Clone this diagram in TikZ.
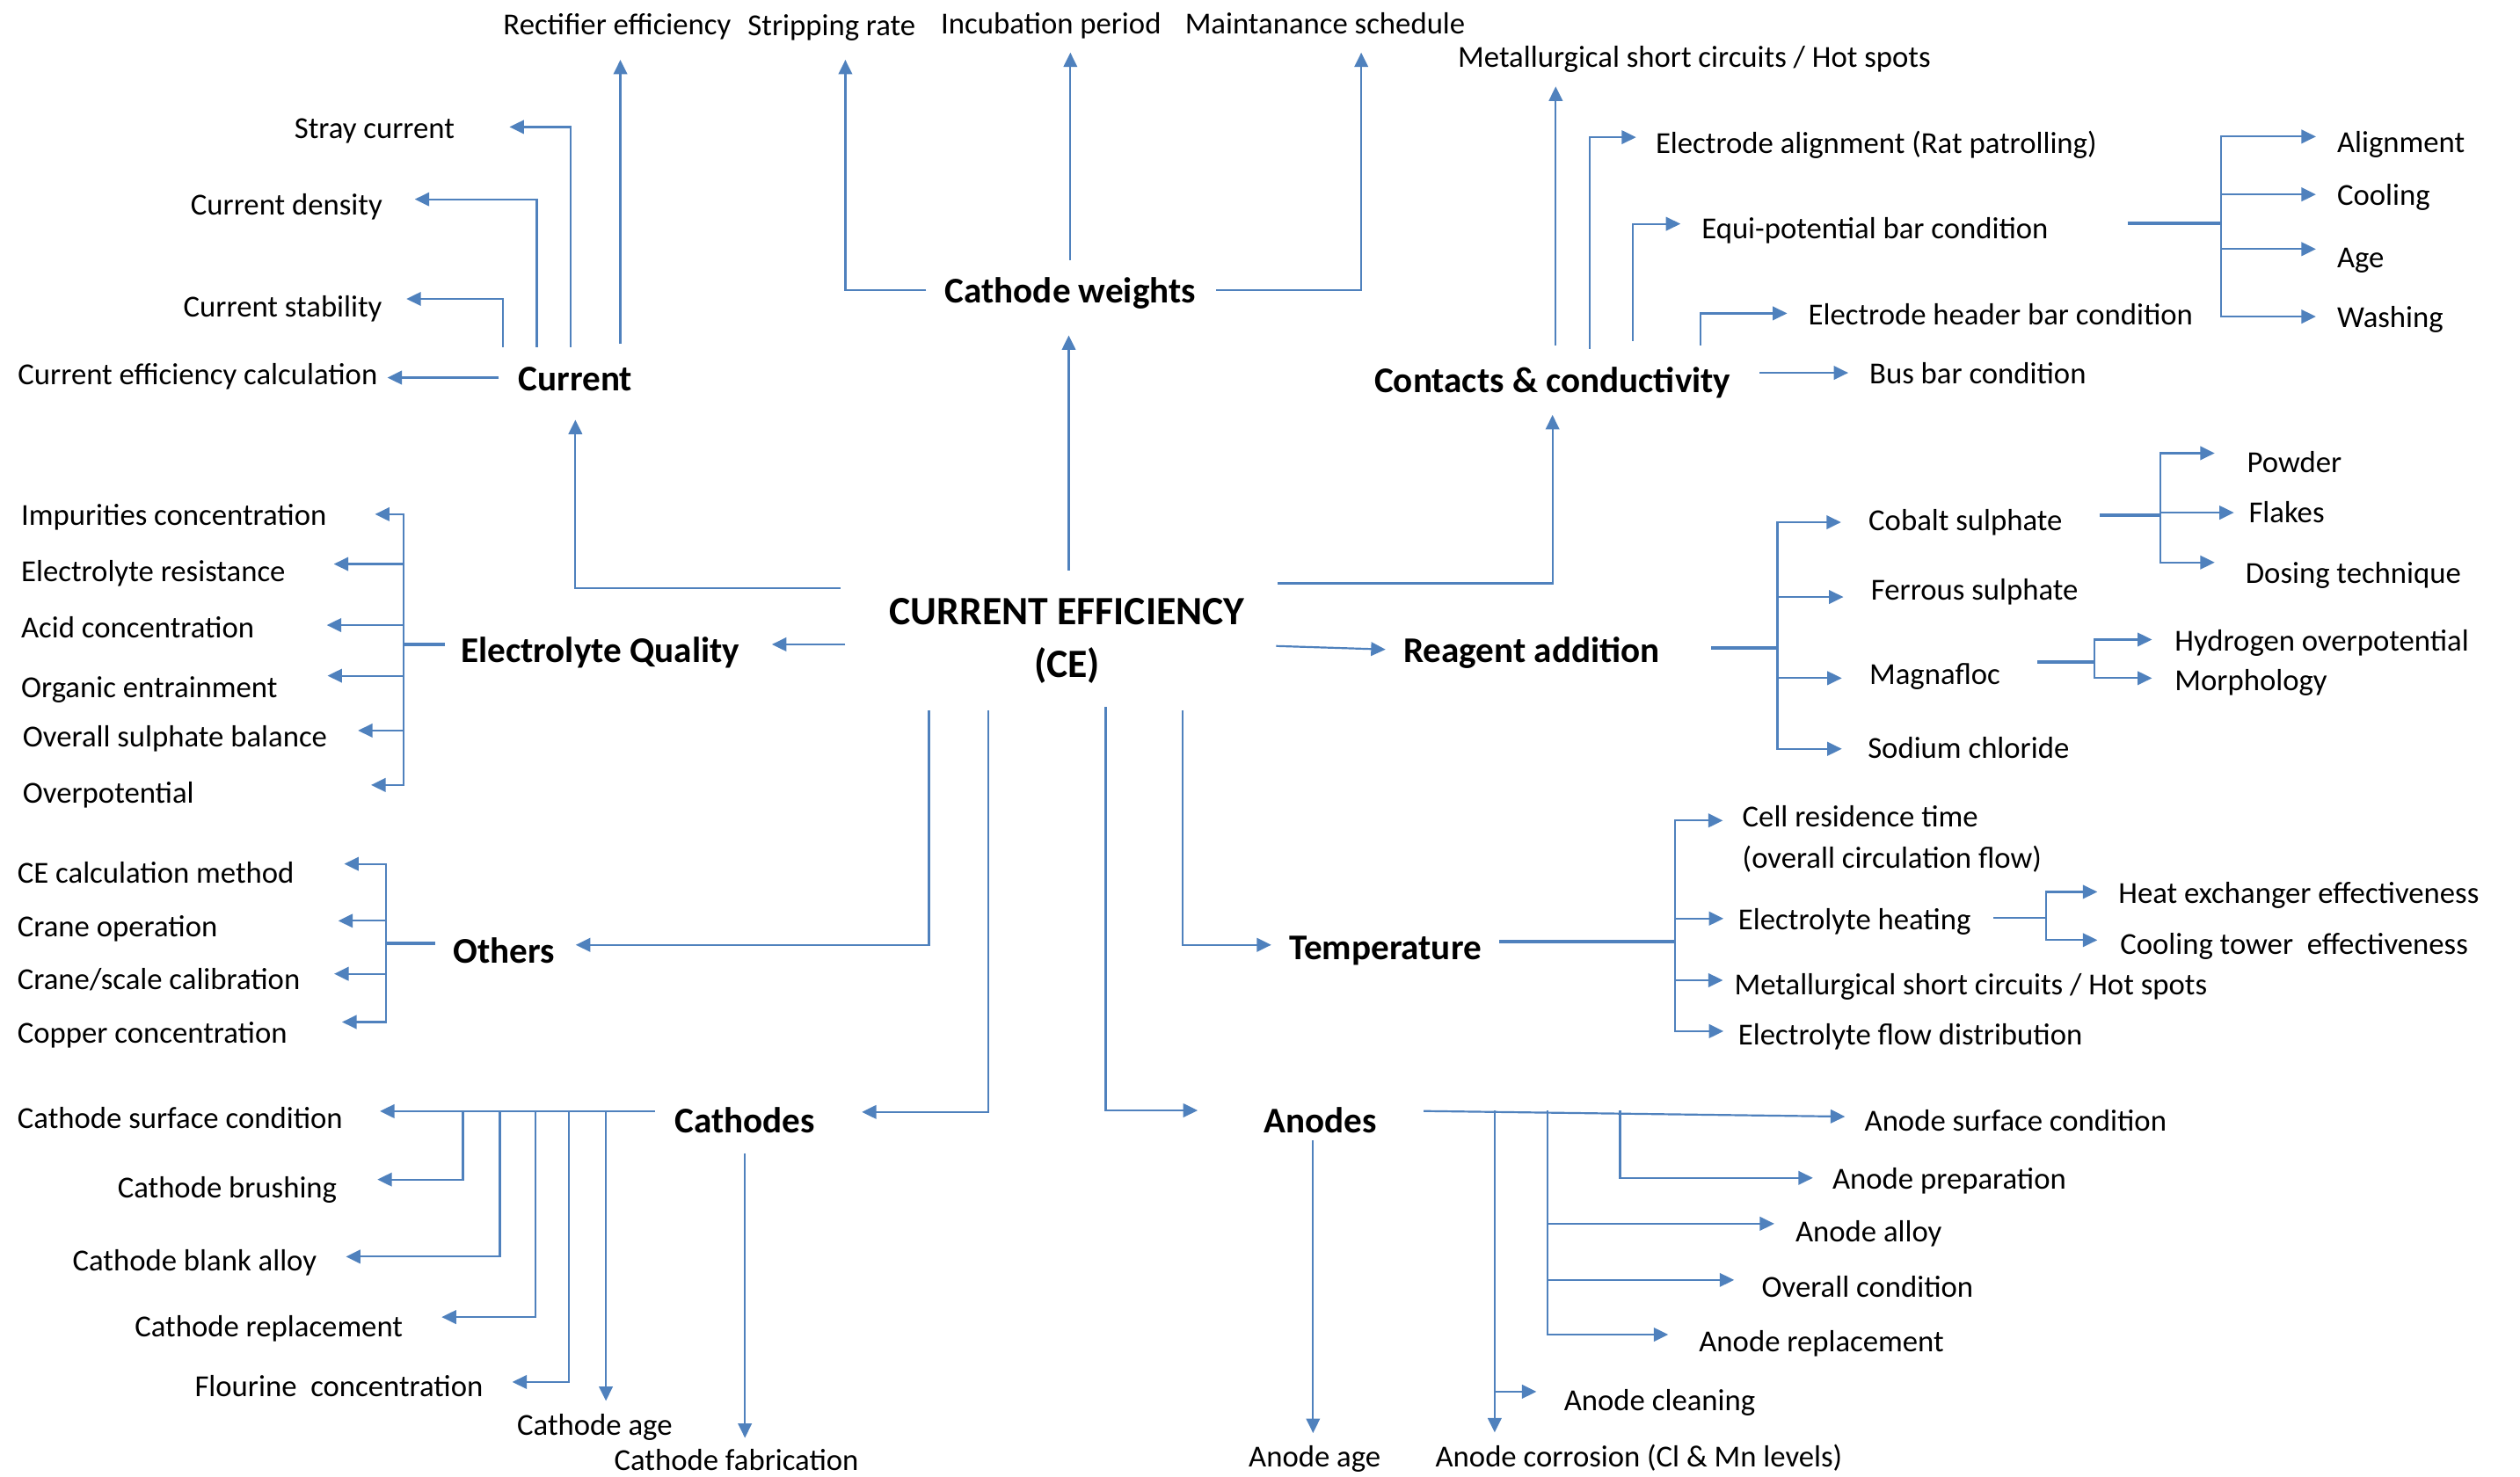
\documentclass[tikz,border=0pt]{standalone}
\usepackage{fontspec}
\setmainfont{Carlito}
\usetikzlibrary{arrows.meta}
\definecolor{linkblue}{RGB}{79,129,189}
\tikzset{
  lbl/.style={inner sep=0pt, font=\fontsize{19}{22}\selectfont, text height=14pt, text depth=0pt},
  lw/.style={lbl, anchor=west},
  lc/.style={lbl, anchor=center},
  head/.style={inner sep=0pt, font=\fontsize{22.5}{26}\selectfont\bfseries, text height=17pt, text depth=1pt},
  conn/.style={draw=linkblue, line width=1.2pt},
  arr/.style={conn, -{Triangle[length=9pt,width=8.5pt]}},
  stub/.style={draw=linkblue, line width=2.2pt},
}
\begin{document}
\begin{tikzpicture}[x=1pt,y=-1pt]
\useasboundingbox[fill=white] (0,0) rectangle (1568,919);

% ---------- central node and main headings ----------
\node[inner sep=0pt, anchor=north, align=center, font=\fontsize{25}{33}\selectfont\bfseries] (ce) at (664,372) {CURRENT EFFICIENCY\\(CE)};

\node[head] (cur) at (358,235) {Current};
\node[head] (cw)  at (666,180.5) {Cathode weights};
\node[head] (cc)  at (966,236.5) {Contacts \& conductivity};
\node[head] (elq) at (373.5,404.5) {Electrolyte Quality};
\node[head] (rea) at (953,404.5) {Reagent addition};
\node[head] (oth) at (313.5,591.5) {Others};
\node[head] (cat) at (463.5,697) {Cathodes};
\node[head] (ano) at (821.5,697) {Anodes};
\node[head] (tem) at (862,589) {Temperature};

% ---------- leaf labels ----------
% current
\node[lw] (cec) at (11,232.5) {Current efficiency calculation};
\node[lw] (cst) at (114,190) {Current stability};
\node[lw] (cde) at (118.5,127) {Current density};
\node[lw] (str) at (183,79) {Stray current};
\node[lc] (rec) at (384,14.6) {Rectifier efficiency};
% cathode weights
\node[lc] (strp) at (517.5,15) {Stripping rate};
\node[lc] (inc)  at (654,14) {Incubation period};
\node[lc] (mai)  at (824.5,14) {Maintanance schedule};
% contacts
\node[lw] (msc) at (907,34.6) {Metallurgical short circuits / Hot spots};
\node[lw] (eal) at (1030,88.4) {Electrode alignment (Rat patrolling)};
\node[lw] (epb) at (1058.6,141.3) {Equi-potential bar condition};
\node[lw] (ehb) at (1125,195) {Electrode header bar condition};
\node[lw] (bbc) at (1163,232) {Bus bar condition};
\node[lw] (ali) at (1454,88) {Alignment};
\node[lw] (coo) at (1454,121) {Cooling};
\node[lw] (age) at (1454,159.6) {Age};
\node[lw] (was) at (1454,197) {Washing};
% electrolyte quality
\node[lw] (imp) at (13,320) {Impurities concentration};
\node[lw] (ers) at (13,355) {Electrolyte resistance};
\node[lw] (aci) at (13,390) {Acid concentration};
\node[lw] (org) at (13,427) {Organic entrainment};
\node[lw] (osb) at (14,458) {Overall sulphate balance};
\node[lw] (ovp) at (14,492.5) {Overpotential};
% reagent addition
\node[lw] (cob) at (1162.5,323) {Cobalt sulphate};
\node[lw] (fer) at (1164,366.5) {Ferrous sulphate};
\node[lw] (mag) at (1163,419) {Magnafloc};
\node[lw] (sod) at (1162,465) {Sodium chloride};
\node[lw] (pow) at (1398,287) {Powder};
\node[lw] (fla) at (1399,318) {Flakes};
\node[lw] (dos) at (1397,356) {Dosing technique};
\node[lw] (hyd) at (1353,398) {Hydrogen overpotential};
\node[lw] (mor) at (1353,423) {Morphology};
% others
\node[lw] (cem) at (10.7,542.6) {CE calculation method};
\node[lw] (cro) at (10.7,576) {Crane operation};
\node[lw] (csc) at (10.7,609) {Crane/scale calibration};
\node[lw] (cop) at (10.7,642) {Copper concentration};
% cathodes
\node[lw] (csf) at (10.7,695) {Cathode surface condition};
\node[lw] (cbr) at (73,738.5) {Cathode brushing};
\node[lw] (cba) at (45,784) {Cathode blank alloy};
\node[lw] (crp) at (83.7,825) {Cathode replacement};
\node[lw] (flo) at (121,862) {Flourine\ \ concentration};
\node[lw] (cag) at (321.6,886) {Cathode age};
\node[lw] (cfa) at (382,908) {Cathode fabrication};
% anodes
\node[lw] (asc) at (1160,697) {Anode surface condition};
\node[lw] (apr) at (1140,733) {Anode preparation};
\node[lw] (aal) at (1117,766) {Anode alloy};
\node[lw] (aoc) at (1096,800.5) {Overall condition};
\node[lw] (arp) at (1057,834) {Anode replacement};
\node[lw] (acl) at (973,871) {Anode cleaning};
\node[lc] (aag) at (818,906) {Anode age};
\node[lw] (aco) at (893,906) {Anode corrosion (Cl \& Mn levels)};
% temperature
\node[inner sep=0pt, anchor=north west, align=left, font=\fontsize{19}{26}\selectfont] (crt) at (1084,501) {Cell residence time\\(overall circulation flow)};
\node[lw] (ehe) at (1081.4,571.6) {Electrolyte heating};
\node[lw] (ms2) at (1079,612) {Metallurgical short circuits / Hot spots};
\node[lw] (efd) at (1081.4,643) {Electrolyte flow distribution};
\node[lw] (hex) at (1318,555) {Heat exchanger effectiveness};
\node[lw] (ctw) at (1319,587) {Cooling tower\ \ effectiveness};

% ---------- branch points ----------
\coordinate (ce-cur) at (523,366);
\coordinate (ce-cw)  at (665,355);
\coordinate (ce-cc)  at (795,363);
\coordinate (ce-elq) at (526,401);
\coordinate (ce-rea) at (794,402);
\coordinate (ce-oth) at (578,442);
\coordinate (ce-cat) at (615,442);
\coordinate (ce-ano) at (688,440);
\coordinate (ce-tem) at (736,442);

\coordinate (cur-j1) at (313,216);
\coordinate (cur-j2) at (334,216);
\coordinate (cur-j3) at (355,216);
\coordinate (cur-j4) at (386,214);
\coordinate (cw-j1)  at (666,162);
\coordinate (cc-j1)  at (968,215);
\coordinate (cc-j2)  at (989,217);
\coordinate (cc-j3)  at (1016,212);
\coordinate (cc-j4)  at (1058,215);
\coordinate (epb-j)  at (1382,139);
\coordinate (elq-j)  at (251,401);
\coordinate (rea-j)  at (1106,403);
\coordinate (cob-j)  at (1344,320.6);
\coordinate (mag-j)  at (1303,412);
\coordinate (oth-j)  at (240,587);
\coordinate (cat-j1) at (288,691.5);
\coordinate (cat-j2) at (311,691.5);
\coordinate (cat-j3) at (333,691.5);
\coordinate (cat-j4) at (354,691.5);
\coordinate (cat-j5) at (377,691.5);
\coordinate (ano-j1) at (930,691);
\coordinate (ano-j2) at (963,691);
\coordinate (ano-j3) at (1008,691);
\coordinate (ano-j4) at (930,866);
\coordinate (ano-j5) at (817,709.5);
\coordinate (tem-j)  at (1042,586);
\coordinate (ehe-j)  at (1273,571);

% ---------- connectors from the centre ----------
\draw[arr, shorten >=17pt] (ce-cur) -| (cur.south);
\draw[arr, shorten >=19pt] (ce-cw) -- (ce-cw |- cw.south);
\draw[arr, shorten >=12.5pt] (ce-cc) -| (cc.south);
\draw[arr, shorten >=20pt] (ce-elq) -- (ce-elq -| elq.east);
\draw[arr, shorten >=11pt] (ce-rea) -- (rea.west);
\draw[arr, shorten >=13pt] (ce-oth) |- ([yshift=3.5pt]oth.east);
\draw[arr, shorten >=29pt] (ce-cat) |- ([yshift=5pt]cat.east);
\draw[arr, shorten >=41pt] (ce-ano) |- ([yshift=6pt]ano.west);
\draw[arr, shorten >=11pt] (ce-tem) |- ([yshift=1pt]tem.west);

% ---------- current ----------
\draw[arr, shorten <=12pt, shorten >=6pt] (cur.west) -- (cur.west -| cec.east);
\draw[arr, shorten >=15pt] (cur-j1) |- ([yshift=4pt]cst.east);
\draw[arr, shorten >=20pt] (cur-j2) |- ([yshift=3pt]cde.east);
\draw[arr, shorten >=34pt] (cur-j3) |- (str.east);
\draw[arr, shorten >=15.4pt] (cur-j4) -- (cur-j4 |- rec.south);

% ---------- cathode weights ----------
\draw[arr, shorten <=11.5pt, shorten >=15pt] (cw.west) -| ([xshift=8.5pt]strp.south);
\draw[arr, shorten >=11.5pt] (cw-j1) -- (cw-j1 |- inc.south);
\draw[arr, shorten <=12.5pt, shorten >=11.5pt] (cw.east) -| ([xshift=22.5pt]mai.south);

% ---------- contacts & conductivity ----------
\draw[arr, shorten >=12pt] (cc-j1) -- (cc-j1 |- msc.south);
\draw[arr, shorten >=12pt] (cc-j2) |- ([yshift=3pt]eal.west);
\draw[arr, shorten >=13pt] (cc-j3) |- ([yshift=2pt]epb.west);
\draw[arr, shorten >=13pt] (cc-j4) |- (ehb.west);
\draw[arr, shorten <=18pt, shorten >=13pt] ([yshift=4.5pt]cc.east) -- (bbc.west);
\draw[stub] ([xshift=49pt,yshift=2.3pt]epb.east) -- (epb-j);
\draw[arr, shorten >=13pt] (epb-j) |- ([yshift=3pt]ali.west);
\draw[arr, shorten >=13pt] (epb-j) |- (coo.west);
\draw[arr, shorten >=13pt] (epb-j) |- ([yshift=4.6pt]age.west);
\draw[arr, shorten >=13pt] (epb-j) |- (was.west);

% ---------- electrolyte quality ----------
\draw[stub, shorten <=10pt] ([yshift=3.5pt]elq.west) -- (elq-j);
\draw[arr, shorten >=30pt] (elq-j) |- (imp.east);
\draw[arr, shorten >=30pt] (elq-j) |- ([yshift=4pt]ers.east);
\draw[arr, shorten >=45pt] (elq-j) |- ([yshift=1pt]aci.east);
\draw[arr, shorten >=31pt] (elq-j) |- ([yshift=6.5pt]org.east);
\draw[arr, shorten >=19pt] (elq-j) |- ([yshift=3.4pt]osb.east);
\draw[arr, shorten >=110pt] (elq-j) |- ([yshift=4pt]ovp.east);

% ---------- reagent addition ----------
\draw[stub, shorten <=32pt] ([yshift=1.5pt]rea.east) -- (rea-j);
\draw[arr, shorten >=17pt] (rea-j) |- ([yshift=-2pt]cob.west);
\draw[arr, shorten >=17pt] (rea-j) |- ([yshift=-5pt]fer.west);
\draw[arr, shorten >=17pt] (rea-j) |- ([yshift=-3pt]mag.west);
\draw[arr, shorten >=16pt] (rea-j) |- ([yshift=-1pt]sod.west);
\draw[stub, shorten <=23pt] ([yshift=2.4pt]cob.east) -- (cob-j);
\draw[arr, shorten >=20pt] (cob-j) |- ([yshift=5pt]pow.west);
\draw[arr, shorten >=9pt]  (cob-j) |- ([yshift=-1pt]fla.west);
\draw[arr, shorten >=19pt] (cob-j) |- ([yshift=6pt]dos.west);
\draw[stub, shorten <=23pt] ([yshift=7pt]mag.east) -- (mag-j);
\draw[arr, shorten >=14pt] (mag-j) |- (hyd.west);
\draw[arr, shorten >=14pt] (mag-j) |- ([yshift=1pt]mor.west);

% ---------- others ----------
\draw[stub, shorten <=11pt] ([yshift=4.5pt]oth.west) -- (oth-j);
\draw[arr, shorten >=31pt] (oth-j) |- ([yshift=5pt]cem.east);
\draw[arr, shorten >=75pt] (oth-j) |- ([yshift=3pt]cro.east);
\draw[arr, shorten >=21pt] (oth-j) |- ([yshift=3pt]csc.east);
\draw[arr, shorten >=34pt] (oth-j) |- ([yshift=6pt]cop.east);

% ---------- cathodes ----------
\draw[arr, shorten <=12pt, shorten >=23pt] ([yshift=5.5pt]cat.west) -- ([yshift=3.5pt]csf.east);
\draw[arr, shorten >=25pt] (cat-j1) |- ([yshift=4.5pt]cbr.east);
\draw[arr, shorten >=18pt] (cat-j2) |- ([yshift=2pt]cba.east);
\draw[arr, shorten >=24pt] (cat-j3) |- ([yshift=5.4pt]crp.east);
\draw[arr, shorten >=18pt] (cat-j4) |- ([yshift=2pt]flo.east);
\draw[arr, shorten >=7pt] (cat-j5) -- (cat-j5 |- cag.north);
\draw[arr, shorten <=11.5pt, shorten >=6pt] (cat.south) -- (cat.south |- cfa.north);

% ---------- anodes ----------
\draw[arr, shorten <=29pt, shorten >=12pt] ([yshift=6pt]ano.east) -- ([yshift=2pt]asc.west);
\draw[arr, shorten >=12pt] (ano-j3) |- (apr.west);
\draw[arr, shorten >=13pt] (ano-j2) |- ([yshift=4.5pt]aal.west);
\draw[arr, shorten >=17pt] (ano-j2) |- ([yshift=4pt]aoc.west);
\draw[arr, shorten >=19pt] (ano-j2) |- ([yshift=3.5pt]arp.west);
\draw[arr, shorten >=7.4pt] (ano-j1) -- (ano-j1 |- aco.north);
\draw[arr, shorten >=17pt] (ano-j4) -- ([yshift=5pt]acl.west);
\draw[arr, shorten >=7pt] (ano-j5) -- (ano-j5 |- aag.north);

% ---------- temperature ----------
\draw[stub, shorten <=11pt] ([yshift=3pt]tem.east) -- (tem-j);
\draw[arr, shorten >=12pt] (tem-j) |- ([yshift=-9.6pt]crt.north west);
\draw[arr, shorten >=9pt] (tem-j) |- (ehe.west);
\draw[arr, shorten >=7pt] (tem-j) |- ([yshift=2pt]ms2.west);
\draw[arr, shorten >=9pt] (tem-j) |- ([yshift=1.3pt]efd.west);
\draw[conn, shorten <=14pt] ([yshift=0.6pt]ehe.east) -- (ehe-j);
\draw[arr, shorten >=13pt] (ehe-j) |- (hex.west);
\draw[arr, shorten >=14pt] (ehe-j) |- ([yshift=2pt]ctw.west);
\end{tikzpicture}
\end{document}
